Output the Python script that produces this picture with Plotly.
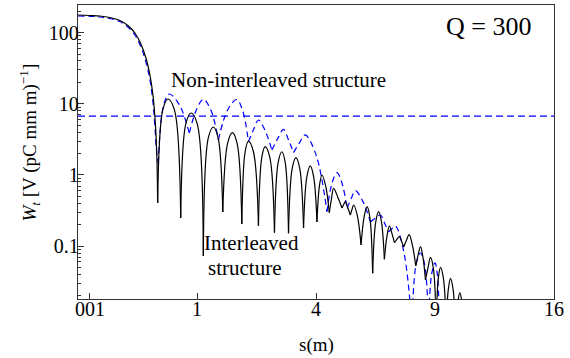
import numpy as np
import plotly.graph_objects as go

# ---------------- data (s in m, W in V/(pC mm m)) ----------------
# Interleaved structure (black solid)
black_main_s = [0.0, 0.00988, 0.0337, 0.0717, 0.1239, 0.1758, 0.2287, 0.2796,
                0.3259, 0.3655, 0.3966, 0.4236, 0.4402, 0.4481]
black_main_w = [176.7, 173.9, 171.1, 163.0, 147.9, 125.8, 98.7, 69.2,
                44.0, 25.4, 13.3, 5.04, 1.62, 0.404]
black_null_s = [0.4481, 0.7448, 1.1094, 1.4802, 1.8951, 2.2995, 2.7261, 3.1294,
                3.5922, 4.0325, 4.4593, 4.9222, 5.2372, 5.6577, 6.1316, 6.6291,
                7.0697, 7.4923, 8.0559, 8.5258, 9.0601, 9.5741, 10.065, 10.551]
black_null_w = [0.404, 0.249, 0.0729, 0.302, 0.205, 0.194, 0.155, 0.152,
                0.180, 0.219, 0.295, 0.344, 0.274, 0.104, 0.0416, 0.0655,
                0.112, 0.0974, 0.0527, 0.0335, 0.008, 0.008, 0.008, 0.008]
black_peak_s = [0.5717, 0.9020, 1.2939, 1.6835, 2.0512, 2.4737, 2.9357, 3.3537,
                3.8091, 4.2033, 4.6135, 5.0463, 5.3652, 5.9005, 6.3843, 6.8476,
                7.2954, 7.7434, 8.2817, 8.7734, 9.2793, 9.7994, 10.296]
black_peak_w = [11.68, 7.43, 4.72, 3.93, 3.00, 2.50, 2.12, 1.75,
                1.34, 1.00, 0.650, 0.422, 0.379, 0.359, 0.305, 0.192,
                0.136, 0.145, 0.0985, 0.0698, 0.0505, 0.0354, 0.0222]
# lobe flanks (rising / falling side, about half way between null and peak)
black_rise_s = [0.5080, 0.8215, 1.1999, 1.5802, 1.9724, 2.3857, 2.8298, 3.2404,
                3.6998, 4.1172, 4.5360, 4.9840, 5.3010, 5.7783, 6.2575, 6.7382,
                7.1824, 7.6176, 8.1687, 8.6495, 9.1694, 9.6864, 10.180]
black_rise_w = [8.27, 5.26, 3.34, 2.78, 2.12, 1.77, 1.50, 1.24,
                0.949, 0.708, 0.460, 0.385, 0.328, 0.254, 0.216, 0.136,
                0.125, 0.121, 0.0748, 0.0494, 0.0358, 0.0251, 0.0157]
black_fall_s = [0.6554, 1.0030, 1.3855, 1.7876, 2.1735, 2.5983, 3.0318, 3.4719,
                3.9200, 4.3301, 4.7664, 5.1411, 5.5103, 6.0153, 6.5061, 6.9585,
                7.3935, 7.8989, 8.4036, 8.9162, 9.4261, 9.9319, 10.423]
black_fall_w = [8.27, 5.26, 3.34, 2.78, 2.12, 1.77, 1.50, 1.24,
                0.949, 0.708, 0.488, 0.347, 0.268, 0.254, 0.216, 0.151,
                0.117, 0.103, 0.0697, 0.0494, 0.0358, 0.0251, 0.0157]

# Non-interleaved structure (blue dashed)
blue_main_s = [0.0, 0.0337, 0.1239, 0.1758, 0.2287, 0.2796, 0.3259, 0.3655,
               0.3966, 0.4181, 0.4346, 0.4548]
blue_main_w = [171.1, 165.6, 143.2, 119.9, 92.5, 62.8, 38.6, 21.6,
               10.6, 4.72, 2.24, 1.47]
blue_null_s = [0.4548, 0.8750, 1.3915, 2.0512, 2.6543, 3.2800, 4.3777, 5.1107,
               6.0363, 6.8038, 7.8753, 8.6742, 9.2282]
blue_null_w = [1.47, 3.89, 3.10, 2.94, 2.24, 2.06, 0.305, 0.340,
               0.219, 0.158, 0.008, 0.008, 0.008]
blue_peak_s = [0.5883, 1.1094, 1.7764, 2.2995, 2.9822, 3.6465, 4.7371, 5.4317,
               6.4571, 7.1145, 8.2817, 8.9994]
blue_peak_w = [13.73, 11.57, 11.49, 5.92, 4.38, 3.65, 1.08, 0.602,
               0.274, 0.192, 0.0802, 0.0581]
blue_rise_s = [0.5194, 0.9888, 1.5780, 2.1735, 2.8157, 3.4607, 4.5557, 5.2698,
               6.2450, 6.9585, 8.0775, 8.8358]
blue_rise_w = [9.72, 8.19, 8.13, 4.32, 3.24, 2.82, 0.765, 0.466,
               0.248, 0.176, 0.0568, 0.0411]
blue_fall_s = [0.7246, 1.2464, 1.9113, 2.4737, 3.1294, 4.0036, 4.9222, 5.7298,
               6.6291, 7.4901, 8.4768, 9.1138]
blue_fall_w = [9.72, 8.19, 8.13, 4.19, 3.11, 1.90, 0.765, 0.426,
               0.214, 0.085, 0.0568, 0.0411]

# horizontal reference level (blue dashed)
hline_s = [0.0, 16.0]
hline_w = 6.7

x_tick_s = [0.01, 1, 4, 9, 16]
x_tick_text = ["001", "1", "4", "9", "16"]
y_tick_vals = [0.1, 1, 10, 100]
y_tick_text = ["0.1", "1", "10", "100"]
y_minor_vals = [m * d for d in (0.01, 0.1, 1, 10, 100) for m in range(2, 10)]


def build(main_s, main_w, null_s, null_w, rise_s, rise_w, peak_s, peak_w, fall_s, fall_w):
    """One smooth segment per lobe so the nulls stay sharp cusps."""
    xs = list(np.sqrt(main_s)) + [None]
    ys = list(main_w) + [None]
    for i in range(len(peak_s)):
        seg_s = [null_s[i], rise_s[i], peak_s[i], fall_s[i], null_s[i + 1]]
        seg_w = [null_w[i], rise_w[i], peak_w[i], fall_w[i], null_w[i + 1]]
        xs += list(np.sqrt(seg_s)) + [None]
        ys += seg_w + [None]
    return xs, ys


FONT = "Liberation Serif, Times New Roman, DejaVu Serif, serif"
BLUE = "#0000ff"

fig = go.Figure()
bx, by = build(blue_main_s, blue_main_w, blue_null_s, blue_null_w, blue_rise_s, blue_rise_w,
               blue_peak_s, blue_peak_w, blue_fall_s, blue_fall_w)
fig.add_trace(go.Scatter(x=bx, y=by, mode="lines",
                         line=dict(color=BLUE, width=1.2, dash="6px,4px", shape="spline", smoothing=1.0),
                         connectgaps=False, hoverinfo="skip"))
fig.add_trace(go.Scatter(x=np.sqrt(hline_s), y=[hline_w, hline_w], mode="lines",
                         line=dict(color=BLUE, width=1.2, dash="7px,4px"), hoverinfo="skip"))
kx, ky = build(black_main_s, black_main_w, black_null_s, black_null_w, black_rise_s, black_rise_w,
               black_peak_s, black_peak_w, black_fall_s, black_fall_w)
fig.add_trace(go.Scatter(x=kx, y=ky, mode="lines",
                         line=dict(color="black", width=1.2, shape="spline", smoothing=1.0),
                         connectgaps=False, hoverinfo="skip"))

fig.update_layout(
    width=570, height=358,
    margin=dict(l=78, r=16, t=5, b=59),
    paper_bgcolor="white", plot_bgcolor="white",
    showlegend=False,
    font=dict(family=FONT, size=20, color="black"),
    xaxis=dict(range=[0, 4], tickmode="array", tickvals=list(np.sqrt(x_tick_s)),
               ticktext=x_tick_text, ticks="inside", ticklen=6, tickcolor="#333",
               ticklabelstandoff=-8,
               showline=True, linecolor="#333", linewidth=1.3, mirror=True,
               showgrid=False, zeroline=False, tickfont=dict(family=FONT, size=20)),
    yaxis=dict(type="log", range=[-1.742, 2.388], tickmode="array", tickvals=y_tick_vals,
               ticktext=y_tick_text, ticks="inside", ticklen=6, tickcolor="#333",
               ticklabelstandoff=-6,
               minor=dict(tickmode="array", tickvals=y_minor_vals, ticks="inside",
                          ticklen=3, tickcolor="#333", showgrid=False),
               showline=True, linecolor="#333", linewidth=1.3, mirror=True,
               showgrid=False, zeroline=False, tickfont=dict(family=FONT, size=20)),
)

ann = [
    dict(text="Q = 300", x=0.8634, y=0.928, size=26, xa="center"),
    dict(text="Non-interleaved structure", x=0.4208, y=0.7435, size=21, xa="center"),
    dict(text="Interleaved", x=0.262, y=0.1908, size=21, xa="left"),
    dict(text="structure", x=0.2716, y=0.1058, size=21, xa="left"),
    dict(text="s(m)", x=0.5, y=-0.155, size=19, xa="center"),
]
for a in ann:
    fig.add_annotation(text=a["text"], x=a["x"], y=a["y"], xref="paper", yref="paper",
                       xanchor=a["xa"], yanchor="middle", showarrow=False, borderpad=0,
                       font=dict(family=FONT, size=a["size"], color="black"))
fig.add_annotation(text="<i>W</i><sub><i>t</i></sub> [V (pC mm m)<sup>\u22121</sup>]",
                   x=-0.1038, y=0.5306, xref="paper", yref="paper", textangle=-90,
                   xanchor="center", yanchor="middle", showarrow=False, borderpad=0,
                   font=dict(family=FONT, size=19, color="black"))

fig.write_html("out.html")
